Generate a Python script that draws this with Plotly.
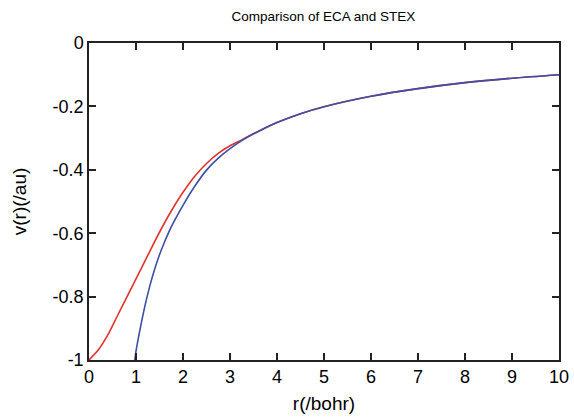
import plotly.graph_objects as go

title = "Comparison of ECA and STEX"
x_title = "r(/bohr)"
y_title = "v(r)(/au)"

# ECA (red)
eca_r = [0.0, 0.2, 0.4, 0.6, 0.8, 1.0, 1.25, 1.5, 1.75, 2.0, 2.25, 2.5, 2.75,
         3.0, 3.25, 3.5, 4.0, 4.5, 5.0, 6.0, 7.0, 8.0, 9.0, 10.0]
eca_v = [-1.0, -0.968, -0.921, -0.862, -0.803, -0.744, -0.670, -0.597, -0.530,
         -0.471, -0.420, -0.380, -0.348, -0.324, -0.3055, -0.2865, -0.251, -0.223,
         -0.201, -0.168, -0.144, -0.125, -0.111, -0.100]

# STEX (blue)
stex_r = [0.975, 1.0, 1.1, 1.2, 1.3, 1.4, 1.5, 1.6, 1.75, 2.0, 2.25, 2.5, 2.75,
          3.0, 3.25, 3.5, 4.0, 4.5, 5.0, 6.0, 7.0, 8.0, 9.0, 10.0]
stex_v = [-1.0, -0.972, -0.893, -0.823, -0.763, -0.712, -0.668, -0.630, -0.580,
          -0.512, -0.452, -0.401, -0.363, -0.333, -0.308, -0.2865, -0.251, -0.223,
          -0.201, -0.168, -0.144, -0.125, -0.111, -0.100]

x_ticks = [0, 1, 2, 3, 4, 5, 6, 7, 8, 9, 10]
y_ticks = [0, -0.2, -0.4, -0.6, -0.8, -1]
y_ticktext = ["0", "-0.2", "-0.4", "-0.6", "-0.8", "-1"]

fig = go.Figure()
fig.add_trace(go.Scatter(x=eca_r, y=eca_v, mode="lines", name="ECA",
                         line=dict(color="#e2332e", width=1.6, shape="spline", smoothing=0.8)))
fig.add_trace(go.Scatter(x=stex_r, y=stex_v, mode="lines", name="STEX",
                         line=dict(color="#3c4ea6", width=1.6, shape="spline", smoothing=0.8)))

font_family = "Liberation Sans, Arial, sans-serif"
fig.update_layout(
    width=574, height=417,
    margin=dict(l=89, r=15, t=43, b=57),
    paper_bgcolor="white", plot_bgcolor="white",
    showlegend=False,
    font=dict(family=font_family, color="black"),
    title=dict(text=title, x=0.5635, xanchor="center", y=0.962, yanchor="middle",
               font=dict(size=13.5, family=font_family, color="black")),
)
fig.update_xaxes(
    range=[0, 10], tickvals=x_ticks, ticks="inside", ticklen=7, tickwidth=1.5,
    tickcolor="#222", showline=True, linecolor="#222", linewidth=1.5, mirror="ticks",
    showgrid=False, zeroline=False, tickfont=dict(size=18), automargin=False,
    title=dict(text=x_title, font=dict(size=19), standoff=10),
)
fig.update_yaxes(
    range=[-1, 0], tickvals=y_ticks, ticktext=y_ticktext, ticks="inside", ticklen=7,
    tickwidth=1.5, tickcolor="#222", showline=True, linecolor="#222", linewidth=1.5,
    mirror="ticks", showgrid=False, zeroline=False, tickfont=dict(size=18), automargin=False,
    title=dict(text=y_title, font=dict(size=19), standoff=21),
)

fig.write_html("out.html")
